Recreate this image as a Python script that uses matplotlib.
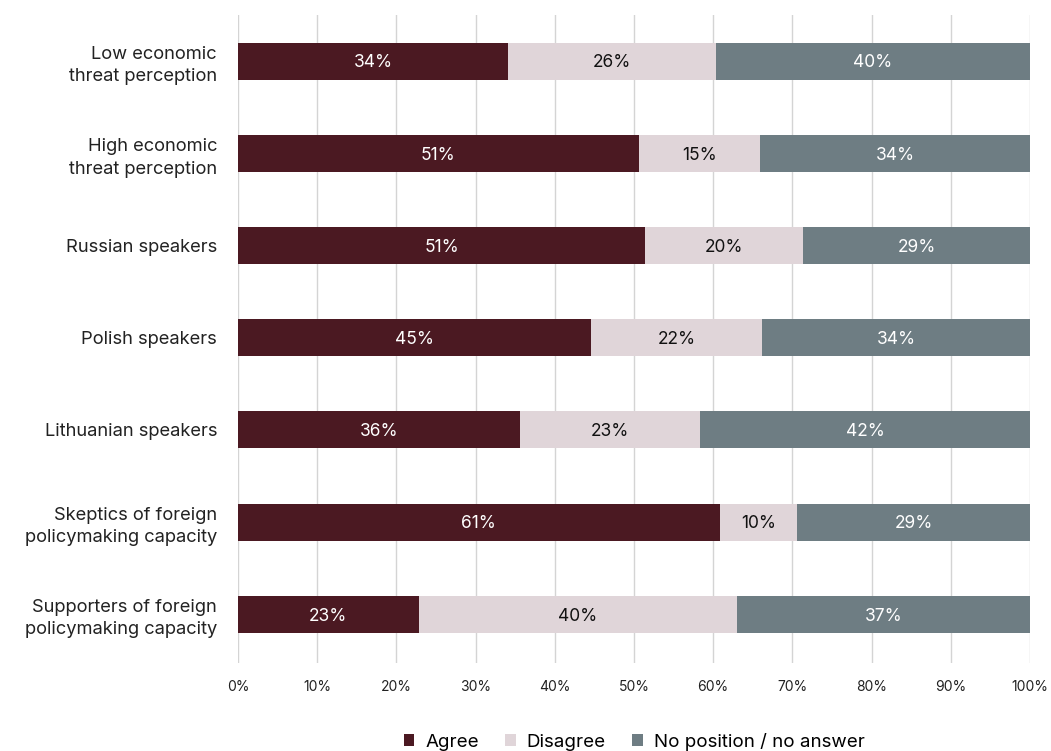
import matplotlib.pyplot as plt
import numpy as np

groups = [
    'Low economic\nthreat perception',
    'High economic\nthreat perception',
    'Russian speakers',
    'Polish speakers',
    'Lithuanian speakers',
    'Skeptics of foreign\npolicymaking capacity',
    'Supporters of foreign\npolicymaking capacity',
]
agree = [34.1, 50.6, 51.4, 44.6, 35.6, 60.8, 22.8]
disagree = [26.2, 15.3, 20.0, 21.6, 22.8, 9.8, 40.2]
no_answer = [39.7, 34.1, 28.6, 33.8, 41.6, 29.4, 37.0]
ticks = [0, 10, 20, 30, 40, 50, 60, 70, 80, 90, 100]

series = [
    ('Agree', agree, '#4b1922', 'white'),
    ('Disagree', disagree, '#e0d5d9', '#111111'),
    ('No position / no answer', no_answer, '#6e7d83', 'white'),
]

plt.rcParams['font.family'] = ['Inter', 'DejaVu Sans']

fig = plt.figure(figsize=(10.51, 7.51), dpi=100)
ax = fig.add_axes([0.2264, 0.117, 0.7536, 0.863])

y = np.arange(len(groups))
left = np.zeros(len(groups))
for name, vals, color, tcolor in series:
    vals = np.array(vals)
    ax.barh(y, vals, left=left, height=0.4, color=color, label=name, zorder=3)
    for yi, l, v in zip(y, left, vals):
        ax.text(l + v / 2, yi + 0.02, f'{v:.0f}%', ha='center', va='center',
                color=tcolor, fontsize=12.5, zorder=4)
    left += vals

ax.set_xlim(0, 100)
ax.set_ylim(len(groups) - 0.47, -0.5)
ax.set_xticks(ticks)
ax.set_xticklabels([f'{t}%' for t in ticks], fontsize=10, color='#222222')
ax.set_yticks(y)
ax.set_yticklabels(groups, fontsize=13.2, color='#222222', linespacing=1.4)
ax.tick_params(axis='x', length=0, pad=12)
ax.tick_params(axis='y', length=0, pad=15)
ax.xaxis.grid(True, color='#d4d4d4', linewidth=1, zorder=0)
for s in ax.spines.values():
    s.set_visible(False)

fig.legend(loc='lower center', bbox_to_anchor=(0.6035, -0.022), ncol=3, frameon=False,
           handlelength=0.55, handleheight=0.55, handletextpad=0.6, columnspacing=1.4,
           prop={'size': 13.5})

fig.savefig('out.png', dpi=100)
